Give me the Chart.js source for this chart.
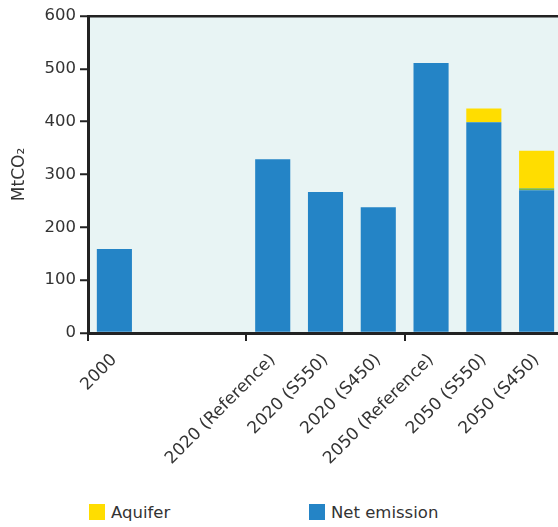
<!DOCTYPE html>
<html lang="en">
  <head>
    <meta charset="UTF-8" />
    <title>CO2 storage</title>
    <style>
      body { margin: 0; background: #fff; font-family: "DejaVu Sans", sans-serif; }
      #wrap { position: relative; width: 558px; height: 527px; overflow: hidden; }
      #legend { position: absolute; left: 0; top: 503px; width: 558px; height: 20px; }
      .item { position: absolute; top: 0; font-size: 16.5px; color: #333; line-height: 20px; }
      .item span { display: inline-block; width: 16px; height: 16px; vertical-align: -2px; margin-right: 6px; }
    </style>
  </head>
  <body>
    <div id="wrap">
      <!-- canvas is a little wider than the window: the last bar is cut at the edge like the original -->
      <canvas id="bar" width="563" height="495"></canvas>
      <div id="legend"></div>
    </div>

    <script src="https://cdn.jsdelivr.net/npm/chart.js"></script>
    <script>
      // data (MtCO2)
      const categories = ["2000", "", "", "2020 (Reference)", "2020 (S550)", "2020 (S450)",
        "2050 (Reference)", "2050 (S550)", "2050 (S450)"];
      const netEmission = [159, null, null, 329, 267, 238, 511, 399, 270];
      const otherStorage = [0, null, null, 0, 0, 0, 0, 0, 4];
      const aquifer = [0, null, null, 0, 0, 0, 0, 26, 71];
      const yTicks = [0, 100, 200, 300, 400, 500, 600];

      const blue = "#2484c6";
      const yellow = "#ffdd00";
      const green = "#7ab648";
      const ink = "#222";

      // light background behind the plot area
      const plotBg = {
        id: "plotBg",
        beforeDraw(chart) {
          const a = chart.chartArea;
          const c = chart.ctx;
          c.save();
          c.fillStyle = "#e8f4f4";
          c.fillRect(a.left, a.top, a.right - a.left, a.bottom - a.top);
          c.restore();
        },
      };

      const ctx = document.getElementById("bar").getContext("2d");
      const chart = new Chart(ctx, {
        type: "bar",
        data: {
          labels: categories,
          datasets: [
            { label: "Net emission", data: netEmission, backgroundColor: blue },
            { label: "Other", data: otherStorage, backgroundColor: green },
            { label: "Aquifer", data: aquifer, backgroundColor: yellow },
          ],
        },
        options: {
          responsive: false,
          animation: false,
          barPercentage: 0.665,
          categoryPercentage: 1,
          layout: { padding: { top: 16, right: 0, left: 0, bottom: 0 } },
          plugins: {
            legend: { display: false },
            tooltip: { enabled: false },
          },
          scales: {
            x: {
              stacked: true,
              offset: true,
              border: { color: ink, width: 3 },
              grid: {
                offset: true,
                drawOnChartArea: false,
                tickLength: 8,
                lineWidth: 2,
                tickColor: (c) => (c.index % 3 === 0 ? ink : "rgba(0,0,0,0)"),
              },
              ticks: {
                autoSkip: false,
                minRotation: 45,
                maxRotation: 45,
                color: "#333",
                padding: 9,
                font: { family: "DejaVu Sans", size: 17 },
              },
              afterFit: (s) => {
                s.height = 162;
                s.paddingLeft = 0;
                s.paddingRight = 0;
              },
            },
            y: {
              stacked: true,
              min: 0,
              max: 600,
              border: { color: ink, width: 3 },
              afterBuildTicks: (s) => { s.ticks = yTicks.map((v) => ({ value: v })); },
              grid: {
                color: (c) => (c.tick && c.tick.value === 600 ? ink : "rgba(0,0,0,0)"),
                lineWidth: 2.5,
                tickColor: ink,
                tickLength: 8,
                tickWidth: 2,
              },
              ticks: {
                color: "#333",
                padding: 4,
                font: { family: "DejaVu Sans", size: 16.5 },
              },
              title: {
                display: true,
                text: "MtCO₂",
                color: "#333",
                padding: { top: 9, bottom: 0 },
                font: { family: "DejaVu Sans", size: 17 },
              },
              afterFit: (s) => { s.width = 88; },
            },
          },
        },
        plugins: [plotBg],
      });

      // legend below the chart, same colours as the datasets
      const legendItems = [
        { label: "Aquifer", color: yellow, left: 89 },
        { label: "Net emission", color: blue, left: 309 },
      ];
      const legend = document.getElementById("legend");
      legendItems.forEach((it) => {
        const d = document.createElement("div");
        d.className = "item";
        d.style.left = it.left + "px";
        d.innerHTML = '<span style="background:' + it.color + '"></span>' + it.label;
        legend.appendChild(d);
      });
    </script>
  </body>
</html>
